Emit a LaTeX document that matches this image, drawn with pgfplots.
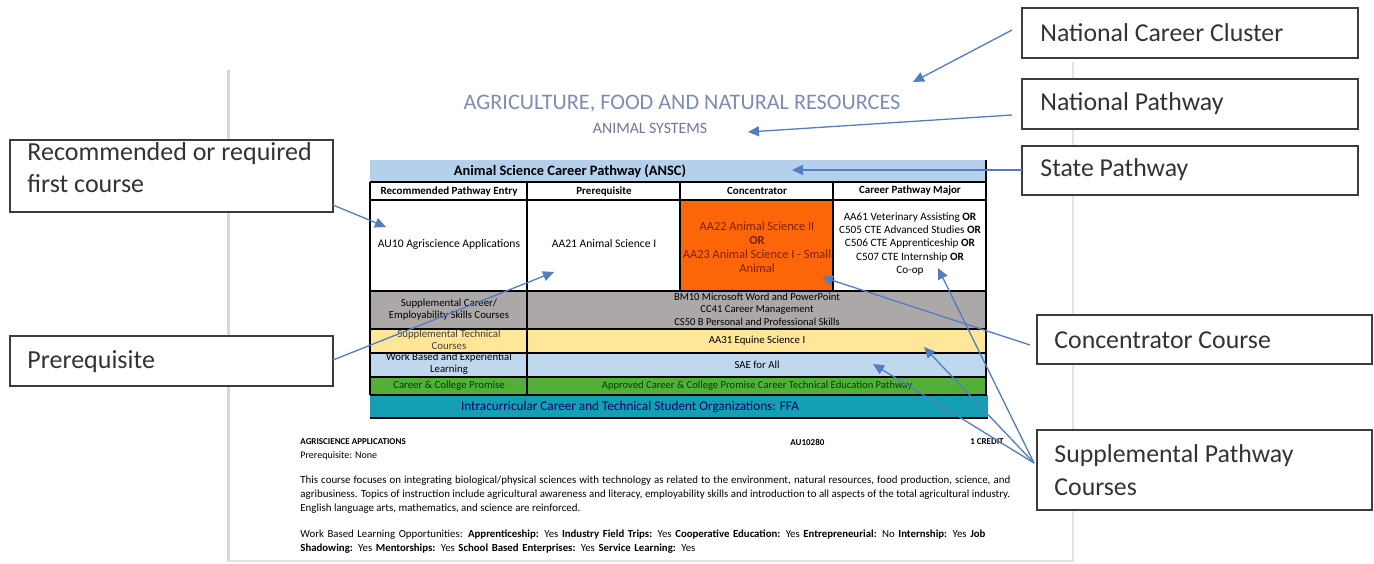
\documentclass[border=0pt]{standalone}
\usepackage{fontspec}
\setmainfont{Carlito}
\usepackage{pgfplots}
\pgfplotsset{compat=1.18}
\usetikzlibrary{arrows.meta}
\hyphenpenalty=10000
\definecolor{hdrblue}{RGB}{180,208,236}
\definecolor{orng}{RGB}{252,102,8}
\definecolor{greyrow}{RGB}{172,168,168}
\definecolor{yelrow}{RGB}{255,230,153}
\definecolor{bluerow}{RGB}{192,216,238}
\definecolor{grnrow}{RGB}{82,176,58}
\definecolor{tealrow}{RGB}{20,160,178}
\definecolor{arrc}{RGB}{84,124,192}
\definecolor{titc}{RGB}{125,140,178}
\definecolor{subc}{RGB}{110,120,148}
\definecolor{pagec}{RGB}{215,215,215}
\definecolor{boxc}{RGB}{60,60,60}
\definecolor{orngtxt}{RGB}{130,30,0}
\newcommand{\rectfill}[5]{\addplot[draw=none, fill=#5] coordinates {(#1,#2) (#3,#2) (#3,#4) (#1,#4)} -- cycle;}
\newcommand{\callout}[4]{\addplot[draw=boxc, line width=1pt, fill=white] coordinates {(#1,#2) (#3,#2) (#3,#4) (#1,#4)} -- cycle;}
\newcommand{\hl}[4]{\addplot[black, line width=#4] coordinates {(#1,#3) (#2,#3)};}
\newcommand{\vl}[4]{\addplot[black, line width=#4] coordinates {(#1,#2) (#1,#3)};}
\newcommand{\arr}[4]{\addplot[arrc, line width=0.65pt, -{Triangle[length=5.5pt,width=5pt]}] coordinates {(#1,#2) (#3,#4)};}
\newcommand{\sz}[2]{\fontsize{#1}{#2}\selectfont}
\begin{document}
\begin{tikzpicture}
\begin{axis}[width=687pt, height=281.5pt, scale only axis, hide axis,
  xmin=0, xmax=1374, ymin=0, ymax=563, y dir=reverse, clip=false, no markers]
% full frame (keeps the picture's bounding box)
\addplot[draw=none] coordinates {(0,0) (1374,0) (1374,563) (0,563)};
% page edges
\addplot[pagec, line width=1.5pt] coordinates {(228,70) (228,562)};
\addplot[pagec!70, line width=0.8pt] coordinates {(1073,62) (1073,561) (228,561)};
% titles
\node[font=\sz{11.1}{13}, text=titc] at (axis cs:682,104) {AGRICULTURE, FOOD AND NATURAL RESOURCES};
\node[font=\sz{7.9}{9}, text=subc] at (axis cs:650,128) {ANIMAL SYSTEMS};
% table fills
\rectfill{370}{160}{987}{182}{hdrblue}
\rectfill{370}{182}{987}{200}{white}
\rectfill{370}{200}{987}{291}{white}
\rectfill{680}{200}{833}{291}{orng}
\rectfill{370}{291}{987}{329}{greyrow}
\rectfill{370}{329}{987}{353}{yelrow}
\rectfill{370}{353}{987}{377}{bluerow}
\rectfill{370}{377}{987}{395}{grnrow}
\rectfill{370}{395}{988}{418}{tealrow}
% table lines
\hl{370}{987}{182}{1.1pt}
\hl{370}{987}{200}{1.1pt}
\hl{370}{987}{291}{1.3pt}
\hl{370}{987}{329}{1.1pt}
\hl{370}{987}{353}{1.1pt}
\hl{370}{987}{377}{1.1pt}
\hl{370}{987}{395}{1.3pt}
\hl{370}{988}{418}{1pt}
\vl{370}{182}{395}{1pt}
\vl{986}{160}{395}{1pt}
\vl{527}{182}{395}{0.9pt}
\vl{680}{182}{291}{0.9pt}
\vl{833}{182}{291}{1.1pt}
% table text
\node[font=\sz{7.2}{8}\bfseries] at (axis cs:570,171) {Animal Science Career Pathway (ANSC)};
\node[font=\sz{5.5}{6}\bfseries] at (axis cs:449,191) {Recommended Pathway Entry};
\node[font=\sz{5.5}{6}\bfseries] at (axis cs:604,191) {Prerequisite};
\node[font=\sz{5.5}{6}\bfseries] at (axis cs:757,191) {Concentrator};
\node[font=\sz{5.5}{6}\bfseries] at (axis cs:910,191) {Career Pathway Major};
\node[font=\sz{5.8}{6}] at (axis cs:449,244) {AU10 Agriscience Applications};
\node[font=\sz{5.8}{6}] at (axis cs:604,244) {AA21 Animal Science I};
\node[font=\sz{6.2}{7}, text=orngtxt, align=center, inner sep=0] at (axis cs:757,247) {AA22 Animal Science II\\\textbf{OR}\\AA23 Animal Science I - Small\\Animal};
\node[font=\sz{5.6}{6.6}, align=center, inner sep=0] at (axis cs:910,244) {AA61 Veterinary Assisting \textbf{OR}\\C505 CTE Advanced Studies \textbf{OR}\\C506 CTE Apprenticeship \textbf{OR}\\C507 CTE Internship \textbf{OR}\\Co-op};
\node[font=\sz{5.4}{6}, align=center, inner sep=0] at (axis cs:449,310) {Supplemental Career/\\Employability Skills Courses};
\node[font=\sz{5.3}{6.2}, align=center, inner sep=0] at (axis cs:757,309) {BM10 Microsoft Word and PowerPoint\\CC41 Career Management\\CS50 B Personal and Professional Skills};
\node[font=\sz{5.4}{6}, align=center, inner sep=0, text=black!85!yellow] at (axis cs:449,340) {Supplemental Technical\\Courses};
\node[font=\sz{5.4}{6}] at (axis cs:757,341) {AA31 Equine Science I};
\node[font=\sz{5.4}{6}, align=center, inner sep=0] at (axis cs:449,364) {Work Based and Experiential\\Learning};
\node[font=\sz{5.4}{6}] at (axis cs:757,365) {SAE for All};
\node[font=\sz{5.4}{6}, text=black!75!green] at (axis cs:449,386) {Career \& College Promise};
\node[font=\sz{5.3}{6}, text=black!75!green] at (axis cs:757,386) {Approved Career \& College Promise Career Technical Education Pathway};
\node[font=\sz{6.6}{7}, text=black!60!blue] at (axis cs:630,407) {Intracurricular Career and Technical Student Organizations: FFA};
% course description
\node[font=\sz{4.5}{6}\bfseries, anchor=west, inner sep=0] at (axis cs:300,442) {AGRISCIENCE APPLICATIONS};
\node[font=\sz{4.5}{6}\bfseries, anchor=west, inner sep=0] at (axis cs:790,442) {AU10280};
\node[font=\sz{4.5}{6}\bfseries, anchor=east, inner sep=0] at (axis cs:1004,442) {1 CREDIT};
\node[font=\sz{5}{6}, anchor=west, inner sep=0] at (axis cs:300,456) {Prerequisite: None};
\node[font=\sz{5.45}{7}, anchor=north west, inner sep=0, text width=355pt, align=justify] at (axis cs:300,476) {This course focuses on integrating biological/physical sciences with technology as related to the environment, natural resources, food production, science, and agribusiness. Topics of instruction include agricultural awareness and literacy, employability skills and introduction to all aspects of the total agricultural industry. English language arts, mathematics, and science are reinforced.};
\node[font=\sz{5.4}{7}, anchor=north west, inner sep=0, text width=350pt, align=left] at (axis cs:300,529) {Work Based Learning Opportunities: \textbf{Apprenticeship:} Yes \textbf{Industry Field Trips:} Yes \textbf{Cooperative Education:} Yes \textbf{Entrepreneurial:} No \textbf{Internship:} Yes \textbf{Job Shadowing:} Yes \textbf{Mentorships:} Yes \textbf{School Based Enterprises:} Yes \textbf{Service Learning:} Yes};
% callout boxes
\callout{10}{140}{333}{212}
\callout{10}{336}{333}{386}
\callout{1022}{8}{1358}{58}
\callout{1022}{79}{1358}{129}
\callout{1022}{146}{1358}{195}
\callout{1037}{315}{1372}{364}
\callout{1037}{430}{1372}{510}
\node[font=\sz{13}{16}, text=black!80, anchor=north west, align=left, inner sep=0] at (axis cs:27,142) {Recommended or required\\first course};
\node[font=\sz{13}{15}, text=black!80, anchor=west, inner sep=0] at (axis cs:27,362) {Prerequisite};
\node[font=\sz{12.9}{15}, text=black!80, anchor=west, inner sep=0] at (axis cs:1040,33) {National Career Cluster};
\node[font=\sz{12.9}{15}, text=black!80, anchor=west, inner sep=0] at (axis cs:1040,104) {National Pathway};
\node[font=\sz{12.9}{15}, text=black!80, anchor=west, inner sep=0] at (axis cs:1040,170) {State Pathway};
\node[font=\sz{12.9}{15}, text=black!80, anchor=west, inner sep=0] at (axis cs:1054,340) {Concentrator Course};
\node[font=\sz{12.9}{16.5}, text=black!80, anchor=north west, align=left, inner sep=0] at (axis cs:1054,444) {Supplemental Pathway\\Courses};
% arrows
\arr{1012}{30}{913}{82}
\arr{1012}{115}{748}{132}
\arr{1022}{170}{792}{170}
\arr{333}{205}{386}{227}
\arr{333}{360}{554}{272}
\arr{1030}{345}{822}{277}
\arr{1034}{463}{938}{268}
\arr{1034}{463}{924}{347}
\arr{1034}{463}{873}{364}
\end{axis}
\end{tikzpicture}
\end{document}
